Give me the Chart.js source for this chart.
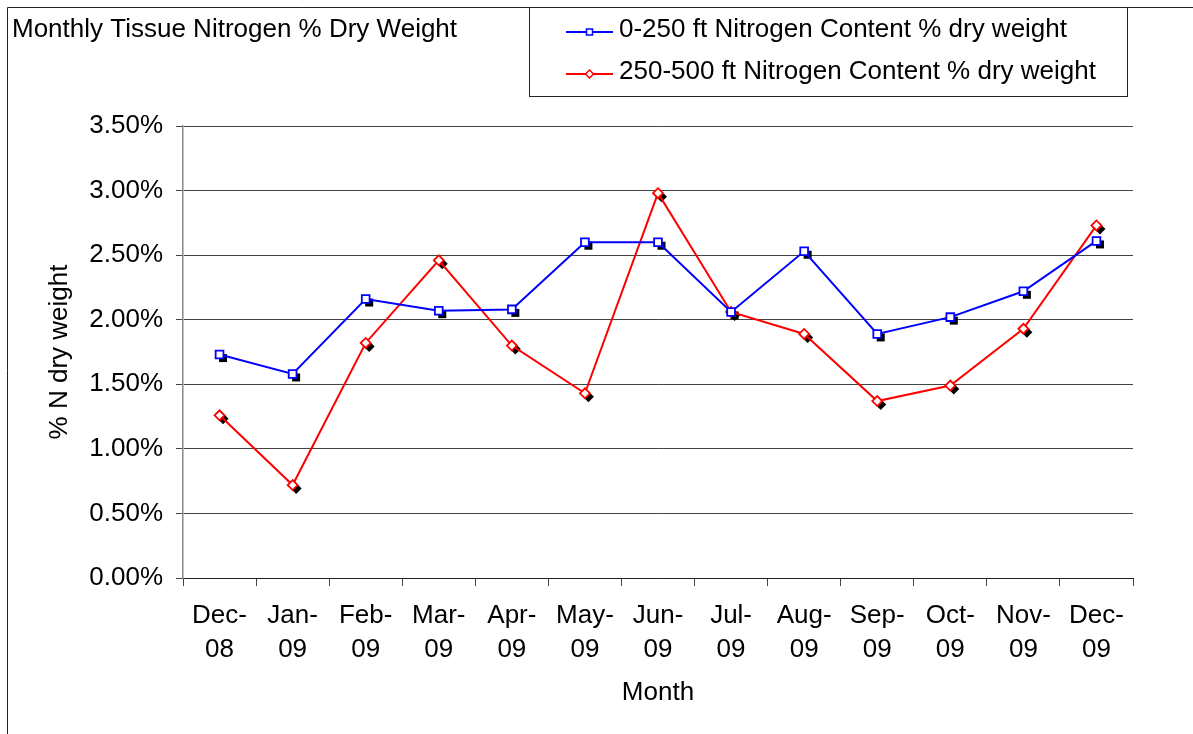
<!DOCTYPE html>
<html lang="en">
<head>
  <meta charset="UTF-8" />
  <title>Monthly Tissue Nitrogen % Dry Weight</title>
  <style>
    body { margin: 0; background: #fff; }
    #chart { display: block; }
  </style>
</head>
<body>
  <canvas id="chart" width="1193" height="734"></canvas>

  <script src="https://cdn.jsdelivr.net/npm/chart.js"></script>
  <script>
    const months = ['Dec-08','Jan-09','Feb-09','Mar-09','Apr-09','May-09','Jun-09',
                    'Jul-09','Aug-09','Sep-09','Oct-09','Nov-09','Dec-09'];
    const shallow = [1.73, 1.58, 2.16, 2.07, 2.08, 2.60, 2.60, 2.06, 2.53, 1.89, 2.02, 2.22, 2.61];
    const deep    = [1.26, 0.72, 1.82, 2.46, 1.80, 1.43, 2.98, 2.06, 1.89, 1.37, 1.49, 1.93, 2.73];
    const seriesNames = ['0-250 ft Nitrogen Content % dry weight', '250-500 ft Nitrogen Content % dry weight'];
    const chartTitle = 'Monthly Tissue Nitrogen % Dry Weight';

    const FONT = 'Liberation Sans, Arial, sans-serif';
    Chart.defaults.font.family = FONT;
    Chart.defaults.color = '#000';

    function marker(ctx, style, x, y, r) {
      ctx.beginPath();
      if (style === 'rect') {
        ctx.rect(x - r, y - r, 2 * r, 2 * r);
      } else {
        ctx.moveTo(x, y - r); ctx.lineTo(x + r, y); ctx.lineTo(x, y + r); ctx.lineTo(x - r, y);
        ctx.closePath();
      }
    }

    // black drop shadows under the markers
    const shadows = {
      id: 'shadows',
      beforeDatasetsDraw(chart) {
        const ctx = chart.ctx;
        ctx.save();
        ctx.fillStyle = '#000';
        chart.data.datasets.forEach((ds, i) => {
          chart.getDatasetMeta(i).data.forEach(p => {
            marker(ctx, ds.pointStyle, p.x + 3.5, p.y + 3.5, ds.pointStyle === 'rect' ? 4 : 5.5);
            ctx.fill();
          });
        });
        ctx.restore();
      }
    };

    // outer frame, title and boxed legend
    const frame = {
      id: 'frame',
      afterDraw(chart) {
        const ctx = chart.ctx;
        ctx.save();
        ctx.strokeStyle = '#222';
        ctx.lineWidth = 1;
        ctx.beginPath();
        ctx.moveTo(7.5, 734); ctx.lineTo(7.5, 7.5); ctx.lineTo(1193, 7.5);
        ctx.stroke();
        ctx.strokeRect(529.5, 7.5, 598, 89);

        ctx.font = '26px ' + FONT;
        ctx.fillStyle = '#000';
        ctx.textBaseline = 'middle';
        ctx.fillText(chartTitle, 12, 30);

        chart.data.datasets.forEach((ds, i) => {
          const y = 31 + i * 42;
          ctx.strokeStyle = ds.borderColor;
          ctx.lineWidth = 2;
          ctx.beginPath(); ctx.moveTo(566, y + 1); ctx.lineTo(613, y + 1); ctx.stroke();
          marker(ctx, ds.pointStyle, 589.5, y + 1, ds.pointStyle === 'rect' ? 3 : 4);
          ctx.fillStyle = '#fff'; ctx.fill();
          ctx.lineWidth = 1.5; ctx.stroke();
          ctx.fillStyle = '#000';
          ctx.fillText(ds.label, 619, y - 1);
        });
        ctx.restore();
      }
    };

    new Chart(document.getElementById('chart').getContext('2d'), {
      type: 'line',
      data: {
        labels: months.map(m => [m.slice(0, 4), m.slice(4)]),
        datasets: [
          { label: seriesNames[0], data: shallow, borderColor: '#0000ff', borderWidth: 2,
            pointStyle: 'rect', pointRadius: 5.5, pointBorderWidth: 1.8,
            pointBackgroundColor: '#fff', pointBorderColor: '#0000ff', tension: 0 },
          { label: seriesNames[1], data: deep, borderColor: '#ff0000', borderWidth: 2,
            pointStyle: 'rectRot', pointRadius: 5, pointBorderWidth: 1.8,
            pointBackgroundColor: '#fff', pointBorderColor: '#ff0000', tension: 0 }
        ]
      },
      options: {
        responsive: false,
        animation: false,
        layout: { padding: { top: 126, right: 60, bottom: 0, left: 0 } },
        plugins: { legend: { display: false }, tooltip: { enabled: false } },
        scales: {
          x: {
            offset: true,
            afterFit: s => { s.height = 156; },
            grid: { offset: true, drawOnChartArea: false, color: '#444', tickLength: 8 },
            border: { color: '#222' },
            ticks: { font: { size: 26, lineHeight: 1.3 }, padding: 13, maxRotation: 0, autoSkip: false },
            title: { display: true, text: 'Month', font: { size: 26 }, padding: { bottom: 26 } }
          },
          y: {
            min: 0, max: 3.5,
            afterFit: s => { s.width = 183; },
            grid: { color: '#444', tickLength: 7 },
            border: { color: '#888', width: 1.5 },
            ticks: { stepSize: 0.5, font: { size: 26 }, padding: 13,
                     callback: v => v.toFixed(2) + '%' },
            title: { display: true, text: '% N dry weight', font: { size: 26 }, padding: { top: 44 } }
          }
        }
      },
      plugins: [shadows, frame]
    });
  </script>
</body>
</html>
